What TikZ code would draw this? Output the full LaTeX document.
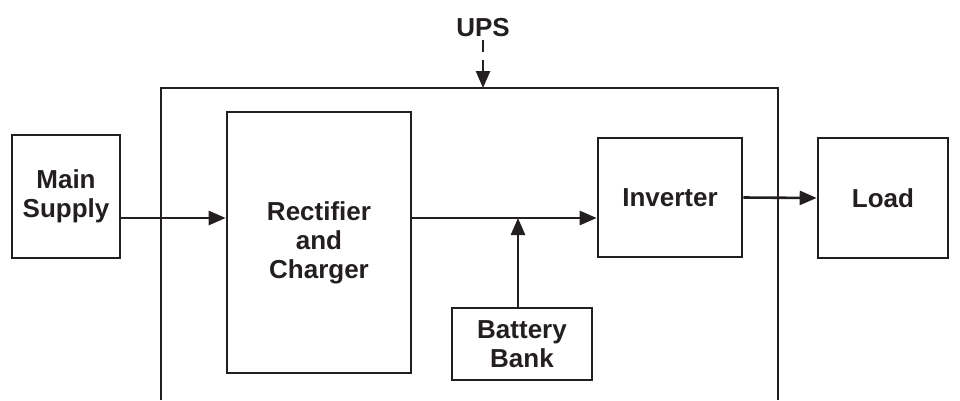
\documentclass[tikz,border=0pt]{standalone}
\usepackage{fontspec}
\setmainfont{Liberation Sans}
\usetikzlibrary{arrows.meta}
\definecolor{ink}{RGB}{35,31,32}
\begin{document}
\begin{tikzpicture}[x=1pt,y=-1pt,
  blk/.style={draw=ink,line width=2.6pt,align=center,inner sep=0pt,
    font=\bfseries\fontsize{26}{29}\selectfont,text=ink},
  lbl/.style={inner sep=0pt,font=\bfseries\fontsize{26}{29}\selectfont,text=ink},
  conn/.style={draw=ink,line width=2.6pt,-{Triangle[length=17pt,width=14pt]}},
  wall/.style={draw=ink,line width=2.6pt}]
\useasboundingbox (0,0) rectangle (960,400);
\fill[white] (0,0) rectangle (960,400);
% UPS enclosure (open at bottom)
\coordinate (ul) at (161,400);
\coordinate (ur) at (778,400);
\coordinate (upstop) at (483,88);
\draw[wall] (ul) -- (161,88) -- (778,88) -- (ur);
% blocks
\node[blk,minimum width=108pt,minimum height=123pt] (main) at (66,196.5) {Main\\Supply};
\node[blk,minimum width=184pt,minimum height=261pt] (rect) at (319,242.5) {Rectifier\\and\\Charger};
\node[blk,minimum width=144pt,minimum height=119pt] (inv) at (670,197.5) {Inverter};
\node[blk,minimum width=130pt,minimum height=120pt] (load) at (883,198) {Load};
\node[blk,minimum width=140pt,minimum height=72pt] (bat) at (522,344) {Battery\\Bank};
\node[lbl] (ups) at (483,28) {UPS};
% connectors
\coordinate (bus) at (518,218);
\draw[conn] (main.east |- bus) -- (rect.west |- bus);
\draw[conn] (rect.east |- bus) -- (inv.west |- bus);
\draw[conn] (bus |- bat.north) -- (bus);
\draw[conn] (inv.east) -- (load.west);
\draw[conn,dash pattern=on 12pt off 8pt on 60pt] (ups.south |- 0,40) -- (upstop);
\end{tikzpicture}
\end{document}
